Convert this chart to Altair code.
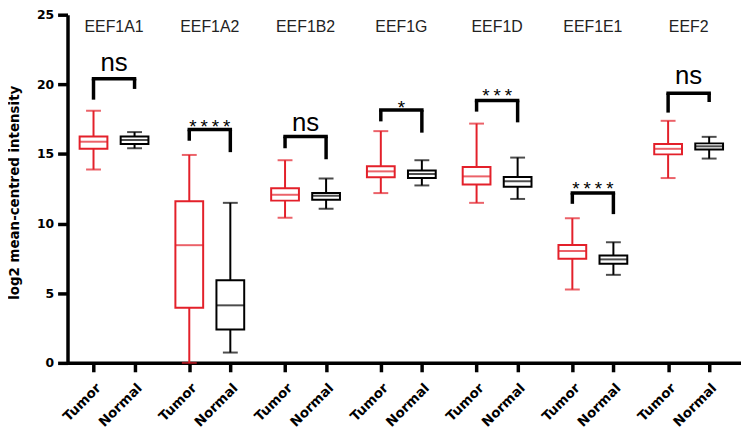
import altair as alt
import pandas as pd

# ---- data ----
genes = ["EEF1A1", "EEF1A2", "EEF1B2", "EEF1G", "EEF1D", "EEF1E1", "EEF2"]
groups = ["Tumor", "Normal"]

tumor_min = [13.88, 0.0, 10.42, 12.19, 11.49, 5.27, 13.27]
tumor_q1 = [15.37, 3.95, 11.65, 13.33, 12.81, 7.47, 14.97]
tumor_med = [15.88, 8.45, 12.07, 13.75, 13.39, 8.03, 15.37]
tumor_q3 = [16.25, 11.60, 12.53, 14.11, 14.07, 8.47, 15.72]
tumor_max = [18.10, 14.93, 14.55, 16.64, 17.18, 10.38, 17.38]

normal_min = [15.41, 0.74, 11.07, 12.74, 11.77, 6.32, 14.67]
normal_q1 = [15.72, 2.39, 11.72, 13.27, 12.65, 7.12, 15.32]
normal_med = [16.00, 4.13, 12.00, 13.56, 13.04, 7.43, 15.55]
normal_q3 = [16.25, 5.94, 12.19, 13.81, 13.35, 7.71, 15.76]
normal_max = [16.57, 11.49, 13.23, 14.55, 14.74, 8.66, 16.23]

bracket_top = [20.40, 16.75, 16.25, 18.15, 18.84, 12.20, 19.36]
bracket_left_end = [18.90, 15.95, 15.41, 17.34, 18.04, 11.42, 17.97]
bracket_right_end = [19.67, 15.13, 14.62, 16.53, 17.27, 10.68, 18.73]
sig_labels = ["ns", "****", "ns", "*", "***", "****", "ns"]
sig_y = [21.45, 17.37, 17.13, 18.73, 19.60, 12.88, 20.50]

y_ticks = [0, 5, 10, 15, 20, 25]
gene_label_y = 24.1

# ---- layout helpers (group offset within a gene, in gene units) ----
OFF = 0.2143
RED = "#e3202a"

rows = []
stats = {
    "Tumor": (tumor_min, tumor_q1, tumor_med, tumor_q3, tumor_max, -OFF),
    "Normal": (normal_min, normal_q1, normal_med, normal_q3, normal_max, OFF),
}
for g, (mn, q1, md, q3, mx, off) in stats.items():
    for i, gene in enumerate(genes):
        rows.append(dict(gene=gene, group=g, pos=i + off, lo=mn[i], q1=q1[i],
                         med=md[i], q3=q3[i], hi=mx[i]))
box_df = pd.DataFrame(rows)

br_df = pd.DataFrame(dict(
    gene=genes,
    center=list(range(len(genes))),
    xl=[i - OFF for i in range(len(genes))],
    xr=[i + OFF for i in range(len(genes))],
    top=bracket_top, lend=bracket_left_end, rend=bracket_right_end,
    sig=sig_labels, sy=sig_y, gy=[gene_label_y] * len(genes),
))

tick_positions = sorted(box_df["pos"].tolist())

xscale = alt.Scale(domain=[-0.434, 6.495], nice=False, zero=False)
yscale = alt.Scale(domain=[0, 25], range=[356, 5], nice=False, zero=False)
cscale = alt.Scale(domain=groups, range=[RED, "black"])

x_axis = alt.Axis(
    values=tick_positions,
    labelExpr="(datum.value - floor(datum.value)) > 0.5 ? 'Tumor' : 'Normal'",
    title=None, grid=False, labelOverlap=False, labelFlush=False,
    domainColor="black", domainWidth=3.5,
    tickColor="black", tickWidth=3.5, tickSize=9,
    labelAngle=315, labelAlign="right", labelBaseline="top", labelPadding=9,
    labelFont="DejaVu Sans", labelFontWeight="bold", labelFontSize=13.5,
    labelColor="black",
)
y_axis = alt.Axis(
    values=y_ticks, title="log2 mean-centred intensity", grid=False,
    domainColor="black", domainWidth=3.5,
    tickColor="black", tickWidth=3.5, tickSize=10,
    labelFont="DejaVu Sans", labelFontWeight="bold", labelFontSize=12.5,
    labelColor="black", labelPadding=4,
    titleFont="DejaVu Sans", titleFontWeight="bold", titleFontSize=13.5,
    titleColor="black", titleX=-46, titleY=184, titleAngle=270,
    titleAlign="center", titleBaseline="bottom",
)

base = alt.Chart(box_df)

whisker = base.mark_rule(strokeWidth=2).encode(
    x=alt.X("pos:Q", scale=xscale, axis=x_axis),
    y=alt.Y("lo:Q", scale=yscale, axis=y_axis),
    y2="hi:Q",
    color=alt.Color("group:N", scale=cscale, legend=None),
)
cap_lo = base.mark_tick(orient="horizontal", size=15, thickness=2).encode(
    x="pos:Q", y="lo:Q",
    color=alt.Color("group:N", scale=cscale, legend=None),
)
cap_hi = base.mark_tick(orient="horizontal", size=15, thickness=2).encode(
    x="pos:Q", y="hi:Q",
    color=alt.Color("group:N", scale=cscale, legend=None),
)
box = base.mark_bar(size=28, fill="white", strokeWidth=2).encode(
    x="pos:Q", y="q1:Q", y2="q3:Q",
    stroke=alt.Stroke("group:N", scale=cscale, legend=None),
)
median = base.mark_tick(orient="horizontal", size=28, thickness=2).encode(
    x="pos:Q", y="med:Q",
    color=alt.Color("group:N", scale=cscale, legend=None),
)

bbase = alt.Chart(br_df)
br_h = bbase.mark_rule(strokeWidth=3.5, color="black", strokeCap="square").encode(
    x="xl:Q", x2="xr:Q", y="top:Q")
br_l = bbase.mark_rule(strokeWidth=3.5, color="black").encode(
    x="xl:Q", y="lend:Q", y2="top:Q")
br_r = bbase.mark_rule(strokeWidth=3.5, color="black").encode(
    x="xr:Q", y="rend:Q", y2="top:Q")

ns_text = bbase.transform_filter("datum.sig == 'ns'").mark_text(
    font="'Liberation Sans Narrow', 'Liberation Sans', Arial", fontSize=26,
    color="black", baseline="middle", align="center", dy=-1,
).encode(x="center:Q", y="sy:Q", text="sig:N")
star_text = bbase.transform_filter("datum.sig != 'ns'").mark_text(
    font="Liberation Mono", fontSize=19, color="black",
    baseline="middle", align="center", dy=6,
).encode(x="center:Q", y="sy:Q", text=alt.Text("sig:N"))
gene_text = bbase.mark_text(
    font="Liberation Sans", fontSize=16, color="#222222",
    baseline="middle", align="center",
).encode(x="center:Q", y="gy:Q", text="gene:N")

chart = alt.layer(
    whisker, cap_lo, cap_hi, box, median, br_h, br_l, br_r,
    ns_text, star_text, gene_text,
).properties(
    width=679, height=356,
    autosize=alt.AutoSizeParams(type="none"),
    padding={"left": 60, "top": 0, "right": 0, "bottom": 74},
).configure_view(stroke=None)

chart.save("out.html", embed_options={"renderer": "svg", "actions": False})
